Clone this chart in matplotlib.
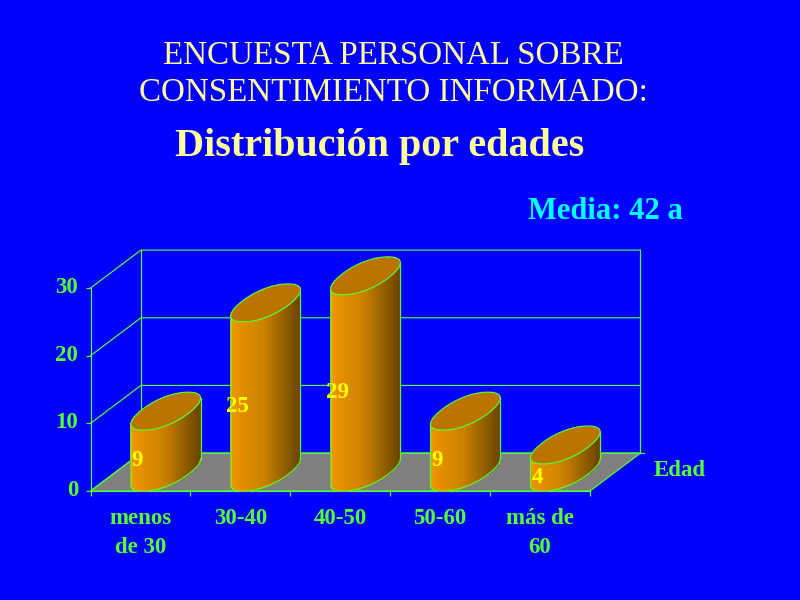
import numpy as np
import matplotlib
matplotlib.use("Agg")
import matplotlib.pyplot as plt
from matplotlib.colors import LinearSegmentedColormap
from matplotlib.patches import Polygon
from matplotlib.transforms import ScaledTranslation

categories = ["menos\nde 30", "30-40", "40-50", "50-60", "más de\n60"]
counts = [9, 25, 29, 9, 4]
value_ticks = [0, 10, 20, 30]

BLUE = "#0000FF"
GREEN = "#55FF33"
PALE = "#FFFF99"
SERIF = "Liberation Serif"
LW = 0.85

# depth of the 3d box, in axis units (one category wide, one count high)
DEPTH_X = 0.505
DEPTH_Y = 5.6
BAR_W = 0.51
BAR_D = 0.45
ROUND = 0.92  # below 1 makes the ellipse a bit boxier, like the original

side_cmap = LinearSegmentedColormap.from_list("side", ["#F09600", "#C88000", "#6E4600"])


def footprint(center, base, n=720):
    # sheared ellipse on the floor plane, front edge sits on the front plane
    t = np.linspace(0, 2 * np.pi, n)
    u = np.sign(np.cos(t)) * np.abs(np.cos(t)) ** ROUND
    v = np.sign(np.sin(t)) * np.abs(np.sin(t)) ** ROUND
    x = center + DEPTH_X / 2 + BAR_W / 2 * u + BAR_D / 2 * v
    y = base + DEPTH_Y / 2 + DEPTH_Y / 2 * v
    return x, y


def draw_cylinder(ax, center, value, z):
    x0, y0 = footprint(center, 0)
    # lower half of the outline runs from leftmost to rightmost point
    i_left, i_right = x0.argmin(), x0.argmax()
    idx = np.arange(i_left, i_left + len(x0)) % len(x0)
    idx = idx[: ((i_right - i_left) % len(x0)) + 1]
    if y0[idx].mean() > y0.mean():
        idx = (np.arange(i_right, i_right + len(x0)) % len(x0))[: ((i_left - i_right) % len(x0)) + 1][::-1]
    low_x, low_y = x0[idx], y0[idx]
    order = np.argsort(low_x)
    low_x, low_y = low_x[order], low_y[order]

    edges = np.linspace(x0.min(), x0.max(), 25)
    for i in range(len(edges) - 1):
        a, b = edges[i], edges[i + 1]
        la, lb = np.interp([a, b], low_x, low_y)
        ax.fill([a, b, b, a], [la, lb, lb + value, la + value], fc=side_cmap(i / 23),
                ec=side_cmap(i / 23), lw=0.5, antialiased=False, zorder=z, clip_on=False)

    ax.plot(low_x, low_y, color=GREEN, lw=LW, zorder=z + 1, clip_on=False)
    ax.plot([low_x[0], low_x[0]], [low_y[0], low_y[0] + value], color=GREEN, lw=LW, zorder=z + 1, clip_on=False)
    ax.plot([low_x[-1], low_x[-1]], [low_y[-1], low_y[-1] + value], color=GREEN, lw=LW, zorder=z + 1, clip_on=False)
    xt, yt = footprint(center, value)
    ax.add_patch(Polygon(np.column_stack([xt, yt]), closed=True, fc="#BA7400", ec=GREEN, lw=LW, zorder=z + 2, clip_on=False))


fig = plt.figure(figsize=(8, 6), dpi=100, facecolor=BLUE)
ax = fig.add_axes([90.5 / 800, 1 - 491 / 600, 499.5 / 800, 203 / 600], facecolor="none")
ax.set_xlim(0, 5)
ax.set_ylim(0, 30)

# floor
ax.add_patch(Polygon([(0, 0), (5, 0), (5 + DEPTH_X, DEPTH_Y), (DEPTH_X, DEPTH_Y)],
                     closed=True, fc="#808080", ec=GREEN, lw=LW, zorder=1, clip_on=False))
# walls and grid
for v in value_ticks:
    ax.plot([0, DEPTH_X, 5 + DEPTH_X], [v, v + DEPTH_Y, v + DEPTH_Y], color=GREEN, lw=LW, zorder=2, clip_on=False)
top = value_ticks[-1] + DEPTH_Y
ax.plot([DEPTH_X, DEPTH_X], [DEPTH_Y, top], color=GREEN, lw=LW, zorder=2, clip_on=False)
ax.plot([5 + DEPTH_X, 5 + DEPTH_X], [DEPTH_Y, top], color=GREEN, lw=LW, zorder=2, clip_on=False)
ax.plot([5 + DEPTH_X, 5 + DEPTH_X + 0.04], [DEPTH_Y, DEPTH_Y], color=GREEN, lw=LW, zorder=2, clip_on=False)

for i, v in enumerate(counts):
    draw_cylinder(ax, i + 0.5, v, 3 + i * 3)
    ax.text(i + 0.47, v / 2, str(v), color="#FFFF00", fontsize=16.5, fontweight="bold",
            family=SERIF, ha="center", va="center", zorder=30)

for side in ["top", "right"]:
    ax.spines[side].set_visible(False)
for side in ["left", "bottom"]:
    ax.spines[side].set_color(GREEN)
    ax.spines[side].set_linewidth(LW)
    ax.spines[side].set_zorder(2)

ax.set_yticks(value_ticks)
ax.set_xticks(range(6))
ax.set_xticklabels([])
ax.set_xticks(np.arange(len(categories)) + 0.5, minor=True)
ax.set_xticklabels(categories, minor=True, linespacing=1.52)
ax.tick_params(axis="x", which="minor", length=0, pad=12, labelcolor=GREEN)
ax.tick_params(axis="x", which="major", length=3.6, width=LW, color=GREEN)
ax.tick_params(axis="y", length=3.6, width=LW, color=GREEN, labelcolor=GREEN, pad=5.4)
for lab in ax.get_xticklabels(minor=True) + ax.get_yticklabels():
    lab.set_fontfamily(SERIF)
    lab.set_fontweight("bold")
    lab.set_fontsize(16.5)
# value labels sit a little above their ticks in the original
up = ScaledTranslation(0, 3 / 100, fig.dpi_scale_trans)
for lab in ax.get_yticklabels():
    lab.set_transform(lab.get_transform() + up)

fig.text(393 / 800, 1 - 56 / 600, "ENCUESTA PERSONAL SOBRE", color=PALE, fontsize=23.8,
         family=SERIF, ha="center", va="center")
fig.text(393 / 800, 1 - 93 / 600, "CONSENTIMIENTO INFORMADO:", color=PALE, fontsize=23.8,
         family=SERIF, ha="center", va="center")
fig.text(380 / 800, 1 - 146 / 600, "Distribución por edades", color=PALE, fontsize=28.9,
         fontweight="bold", family=SERIF, ha="center", va="center")
fig.text(605.5 / 800, 1 - 212 / 600, "Media: 42 a", color="#00FFFF", fontsize=22.1,
         fontweight="bold", family=SERIF, ha="center", va="center")
fig.text(680 / 800, 1 - 471 / 600, "Edad", color=GREEN, fontsize=16.5,
         fontweight="bold", family=SERIF, ha="center", va="center")

fig.savefig("out.png", dpi=100, facecolor=BLUE)
